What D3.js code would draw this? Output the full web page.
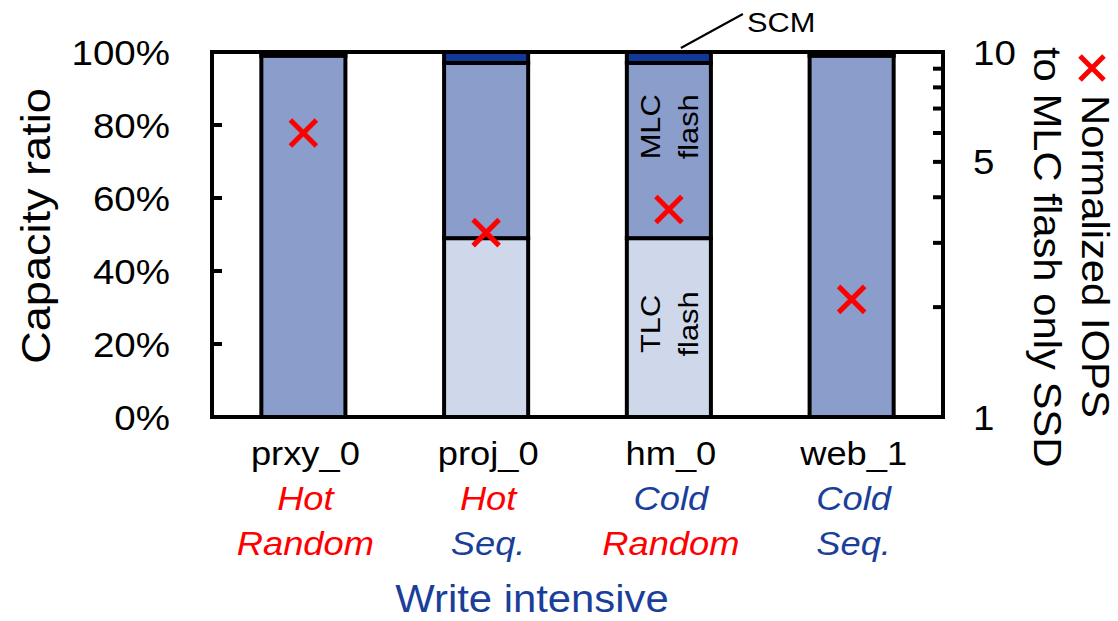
<!DOCTYPE html>
<html>
<head>
<meta charset="utf-8">
<script src="https://cdn.jsdelivr.net/npm/d3@7"></script>
<style>
  body { margin: 0; background: #fff; }
  text { font-family: "Liberation Sans", Arial, sans-serif; }
</style>
</head>
<body>
<div id="chart"></div>
<script>
// Data
const workloads = ["prxy_0", "proj_0", "hm_0", "web_1"];
const heatLabels = ["Hot", "Hot", "Cold", "Cold"];
const patternLabels = ["Random", "Seq.", "Random", "Seq."];
const tlcShare = [0, 49, 49, 0];     // % capacity
const mlcShare = [99, 48, 48, 99];
const scmShare = [1, 3, 3, 1];
const iopsNorm = [6.0, 3.2, 3.7, 2.1]; // normalized IOPS (log axis)
const pctTicks = [0, 20, 40, 60, 80, 100];
const iopsMinorTicks = [1, 2, 3, 4, 5, 6, 7, 8, 9, 10];
const iopsLabels = [1, 5, 10];

const W = 1118, H = 621;
const margin = { top: 52, right: 175, bottom: 204, left: 212 };
const width = W - margin.left - margin.right,
      height = H - margin.top - margin.bottom;

const RED = "#ff0000", BLUE = "#1a3f9a";
const colors = { tlc: "#cfd8ea", mlc: "#8a9dcb", scm: "#12399a" };
const SX = 1.1; // the figure's font is a bit wider than Arial

// place a text with translate / rotate / horizontal stretch
function tr(x, y, rot) {
  return `translate(${x},${y}) rotate(${rot || 0}) scale(${SX},1)`;
}

const svgRoot = d3.select("#chart").append("svg")
  .attr("width", W).attr("height", H);
const svg = svgRoot.append("g")
  .attr("transform", `translate(${margin.left},${margin.top})`);

const rows = workloads.map((w, i) => ({
  name: w, tlc: tlcShare[i], mlc: mlcShare[i], scm: scmShare[i], iops: iopsNorm[i]
}));

const x = d3.scaleBand().domain(workloads).range([0, width]).paddingInner(0.54).paddingOuter(0.27);
const y = d3.scaleLinear().domain([0, 100]).range([height, 0]);
const y2 = d3.scaleLog().domain([1, 10]).range([height, 0]);
const cx = name => x(name) + x.bandwidth() / 2;

// stacked bars
const stack = d3.stack().keys(["tlc", "mlc", "scm"])(rows);
stack.forEach(layer => {
  svg.selectAll(".seg-" + layer.key)
    .data(layer.filter(d => d[1] - d[0] > 0))
    .enter().append("rect")
    .attr("x", d => x(d.data.name))
    .attr("y", d => y(d[1]))
    .attr("width", x.bandwidth())
    .attr("height", d => y(d[0]) - y(d[1]))
    .attr("fill", colors[layer.key])
    .attr("stroke", "#000")
    .attr("stroke-width", 4);
});

// frame
svg.append("rect").attr("x", 0).attr("y", 0).attr("width", width).attr("height", height)
  .attr("fill", "none").attr("stroke", "#000").attr("stroke-width", 4);

// left ticks (inward)
svg.selectAll(".ltick").data(pctTicks.slice(1, -1)).enter().append("line")
  .attr("x1", 0).attr("x2", 10).attr("y1", d => y(d)).attr("y2", d => y(d))
  .attr("stroke", "#000").attr("stroke-width", 4);
svg.selectAll(".llab").data(pctTicks).enter().append("text")
  .attr("transform", d => tr(-42, y(d)))
  .attr("dy", "0.36em")
  .attr("text-anchor", "end").attr("font-size", 35).text(d => d + "%");

// right log ticks (inward)
svg.selectAll(".rtick").data(iopsMinorTicks.slice(1, -1)).enter().append("line")
  .attr("x1", width).attr("x2", width - 10).attr("y1", d => y2(d)).attr("y2", d => y2(d))
  .attr("stroke", "#000").attr("stroke-width", 4);
svg.selectAll(".rlab").data(iopsLabels).enter().append("text")
  .attr("transform", d => tr(width + 30, y2(d)))
  .attr("dy", "0.36em")
  .attr("text-anchor", "start").attr("font-size", 35).text(d => d);

// IOPS markers
const m = 13;
svg.selectAll(".mark").data(rows).enter().append("path")
  .attr("transform", d => `translate(${cx(d.name)},${y2(d.iops)})`)
  .attr("d", `M${-m},${-m}L${m},${m}M${-m},${m}L${m},${-m}`)
  .attr("stroke", RED).attr("stroke-width", 5).attr("fill", "none");

// in-bar labels on hm_0
const hmX = cx("hm_0");
function vlabel(lines, cy) {
  const t = svg.append("text")
    .attr("transform", tr(hmX - 9, cy, -90))
    .attr("text-anchor", "middle").attr("font-size", 28);
  lines.forEach((s, i) => t.append("tspan").attr("x", 0).attr("dy", i ? 38 : 0).text(s));
}
vlabel(["MLC", "flash"], y(79.5));
vlabel(["TLC", "flash"], y(25.5));

// SCM callout
svg.append("line").attr("x1", hmX + 12).attr("y1", -4).attr("x2", hmX + 74).attr("y2", -38)
  .attr("stroke", "#000").attr("stroke-width", 2);
svg.append("text").attr("transform", tr(hmX + 78, -20)).attr("font-size", 28).text("SCM");

// x category labels
const cat = svg.selectAll(".cat").data(rows).enter().append("g")
  .attr("transform", d => `translate(${cx(d.name) + 2},${height})`);
cat.append("text").attr("transform", tr(0, 48)).attr("text-anchor", "middle")
  .attr("font-size", 33).text(d => d.name);
cat.append("text").attr("transform", tr(0, 93)).attr("text-anchor", "middle").attr("font-size", 33)
  .attr("font-style", "italic").attr("fill", (d, i) => heatLabels[i] === "Hot" ? RED : BLUE)
  .text((d, i) => heatLabels[i]);
cat.append("text").attr("transform", tr(0, 138)).attr("text-anchor", "middle").attr("font-size", 33)
  .attr("font-style", "italic").attr("fill", (d, i) => patternLabels[i] === "Random" ? RED : BLUE)
  .text((d, i) => patternLabels[i]);

svgRoot.append("text").attr("transform", tr(532, 612))
  .attr("text-anchor", "middle").attr("font-size", 38)
  .attr("fill", BLUE).text("Write intensive");

// y axis title
svgRoot.append("text").attr("transform", tr(50, 226, -90))
  .attr("text-anchor", "middle").attr("font-size", 41).text("Capacity ratio");

// right legend / title
const lg = svgRoot.append("g");
lg.append("path").attr("transform", "translate(1092,68)")
  .attr("d", "M-12,-12L12,12M-12,12L12,-12").attr("stroke", RED).attr("stroke-width", 5);
lg.append("text").attr("transform", tr(1082, 95, 90))
  .attr("font-size", 38).text("Normalized IOPS");
lg.append("text").attr("transform", tr(1034, 47, 90))
  .attr("font-size", 38).text("to MLC flash only SSD");
</script>
</body>
</html>
